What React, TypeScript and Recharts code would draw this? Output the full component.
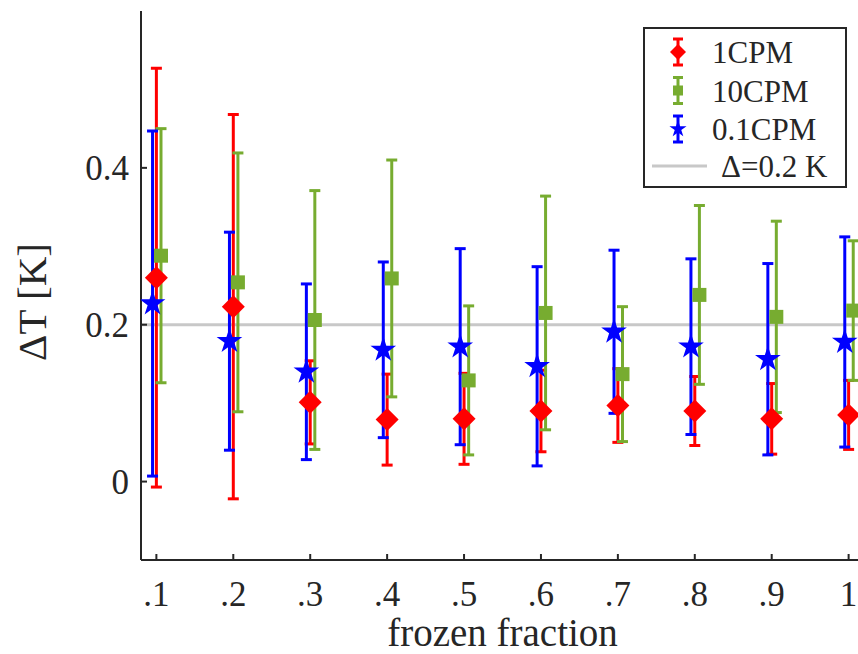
import React from "react";
import {
  ErrorBar,
  Label,
  Legend,
  ReferenceLine,
  Scatter,
  ScatterChart,
  XAxis,
  YAxis
} from "recharts";

// frozen fraction categories and their tick labels
const fractions = [0.1, 0.2, 0.3, 0.4, 0.5, 0.6, 0.7, 0.8, 0.9, 1.0];
const xTickLabels = [".1", ".2", ".3", ".4", ".5", ".6", ".7", ".8", ".9", "1"];
const yTicks = [0, 0.2, 0.4];
const yTickLabels = ["0", "0.2", "0.4"];

// 1CPM
const cpm1Mean = [0.26, 0.223, 0.101, 0.079, 0.08, 0.09, 0.097, 0.09, 0.08, 0.085];
const cpm1Err = [0.267, 0.245, 0.053, 0.058, 0.058, 0.052, 0.047, 0.044, 0.045, 0.044];
// 10CPM
const cpm10Mean = [0.288, 0.254, 0.206, 0.259, 0.129, 0.215, 0.137, 0.238, 0.21, 0.218];
const cpm10Err = [0.162, 0.165, 0.165, 0.151, 0.095, 0.149, 0.086, 0.114, 0.122, 0.089];
// 0.1CPM
const cpm01Mean = [0.227, 0.179, 0.14, 0.168, 0.172, 0.147, 0.191, 0.172, 0.156, 0.178];
const cpm01Err = [0.22, 0.139, 0.112, 0.112, 0.125, 0.127, 0.104, 0.112, 0.122, 0.134];

const threshold = 0.2;

// small horizontal dodge so the bars don't sit on top of each other
const SHIFT_10 = 0.006;
const SHIFT_01 = -0.005;

const RED = "#ff0000";
const GREEN = "#77ac30";
const BLUE = "#0000ff";
const GREY = "#c8c8c8";
const INK = "#262626";
const FONT = "'Liberation Serif', 'Times New Roman', serif";

const rows = (means: number[], errs: number[], shift: number) =>
  fractions.map((f, i) => ({ x: f + shift, y: means[i], err: errs[i] }));

const data1 = rows(cpm1Mean, cpm1Err, 0);
const data10 = rows(cpm10Mean, cpm10Err, SHIFT_10);
const data01 = rows(cpm01Mean, cpm01Err, SHIFT_01);

function starPath(cx: number, cy: number, R: number) {
  const r = R * 0.382;
  let d = "";
  for (let i = 0; i < 10; i++) {
    const rad = i % 2 === 0 ? R : r;
    const a = -Math.PI / 2 + (i * Math.PI) / 5;
    d += (i === 0 ? "M" : "L") + (cx + rad * Math.cos(a)).toFixed(2) + "," + (cy + rad * Math.sin(a)).toFixed(2);
  }
  return d + "Z";
}

const Diamond = ({ cx, cy, s = 11.5 }: any) => (
  <path d={`M${cx},${cy - s}L${cx + s},${cy}L${cx},${cy + s}L${cx - s},${cy}Z`} fill={RED} />
);
const Square = ({ cx, cy, s = 7 }: any) => (
  <rect x={cx - s} y={cy - s} width={2 * s} height={2 * s} fill={GREEN} />
);
const Star = ({ cx, cy, s = 13.5 }: any) => <path d={starPath(cx, cy, s)} fill={BLUE} />;

const BottomTick = ({ x, y, payload }: any) => {
  const i = fractions.findIndex((f) => Math.abs(f - payload.value) < 1e-6);
  return (
    <g>
      <line x1={x} y1={y} x2={x} y2={y - 6} stroke={INK} strokeWidth={2} />
      <text x={x} y={y + 46} textAnchor="middle" fontSize={35} fontFamily={FONT} fill={INK}>
        {xTickLabels[i]}
      </text>
    </g>
  );
};

const TopTick = ({ x, y }: any) => (
  <line x1={x} y1={y} x2={x} y2={y + 6} stroke={INK} strokeWidth={2} />
);

const LeftTick = ({ x, y, payload }: any) => {
  const i = yTicks.findIndex((t) => Math.abs(t - payload.value) < 1e-6);
  return (
    <g>
      <line x1={x} y1={y} x2={x + 6} y2={y} stroke={INK} strokeWidth={2} />
      <text x={x - 12} y={y + 12} textAnchor="end" fontSize={35} fontFamily={FONT} fill={INK}>
        {yTickLabels[i]}
      </text>
    </g>
  );
};

const RightTick = ({ x, y }: any) => (
  <line x1={x} y1={y} x2={x - 6} y2={y} stroke={INK} strokeWidth={2} />
);

const ErrIcon = ({ x, y, color }: any) => (
  <g stroke={color} strokeWidth={3}>
    <line x1={x} y1={y - 13} x2={x} y2={y + 13} />
    <line x1={x - 5} y1={y - 13} x2={x + 5} y2={y - 13} />
    <line x1={x - 5} y1={y + 13} x2={x + 5} y2={y + 13} />
  </g>
);

const LegendBox = () => {
  const items = [
    { name: "1CPM", color: RED, marker: (cx: number, cy: number) => <Diamond cx={cx} cy={cy} s={8} /> },
    { name: "10CPM", color: GREEN, marker: (cx: number, cy: number) => <Square cx={cx} cy={cy} s={5} /> },
    { name: "0.1CPM", color: BLUE, marker: (cx: number, cy: number) => <Star cx={cx} cy={cy} s={9} /> }
  ];
  return (
    <svg width={204} height={161} style={{ display: "block" }}>
      <rect x={1} y={1} width={202} height={159} fill="#fff" stroke={INK} strokeWidth={2} />
      {items.map((it, i) => {
        const cy = 25 + i * 38.5;
        return (
          <g key={it.name}>
            <ErrIcon x={35} y={cy} color={it.color} />
            {it.marker(35, cy)}
            <text x={69} y={cy + 11} fontSize={31} fontFamily={FONT} fill={INK}>
              {it.name}
            </text>
          </g>
        );
      })}
      <line x1={9} y1={139} x2={64} y2={139} stroke={GREY} strokeWidth={3} />
      <text x={78} y={150} fontSize={31} fontFamily={FONT} fill={INK}>
        Δ=0.2 K
      </text>
    </svg>
  );
};

export default function App() {
  return (
    <div style={{ position: "absolute", left: 0, top: 0, width: 858, height: 654, overflow: "hidden", background: "#fff" }}>
      <ScatterChart width={880} height={654} margin={{ top: 11, right: 16, bottom: 0, left: 0 }}>
        <XAxis
          type="number"
          dataKey="x"
          domain={[0.08, 1.02]}
          allowDataOverflow
          ticks={fractions}
          interval={0}
          height={94}
          tickSize={0}
          tickMargin={0}
          tickLine={false}
          tick={<BottomTick />}
          axisLine={{ stroke: INK, strokeWidth: 2 }}
        >
          <Label
            content={({ viewBox }: any) => (
              <text
                x={viewBox.x + viewBox.width / 2}
                y={viewBox.y + 86}
                textAnchor="middle"
                fontSize={39}
                fontFamily={FONT}
                fill={INK}
              >
                frozen fraction
              </text>
            )}
          />
        </XAxis>
        <XAxis
          xAxisId="top"
          orientation="top"
          type="number"
          dataKey="x"
          domain={[0.08, 1.02]}
          allowDataOverflow
          ticks={fractions}
          interval={0}
          height={0}
          tickSize={0}
          tickMargin={0}
          tickLine={false}
          tick={<TopTick />}
          axisLine={{ stroke: INK, strokeWidth: 2 }}
        />
        <YAxis
          type="number"
          dataKey="y"
          domain={[-0.1, 0.6]}
          allowDataOverflow
          ticks={yTicks}
          interval={0}
          width={141}
          tickSize={0}
          tickMargin={0}
          tickLine={false}
          tick={<LeftTick />}
          axisLine={{ stroke: INK, strokeWidth: 2 }}
        >
          <Label
            content={({ viewBox }: any) => {
              const cx = viewBox.x + 32;
              const cy = 302;
              return (
                <text
                  x={cx}
                  y={cy}
                  transform={`rotate(-90 ${cx} ${cy})`}
                  textAnchor="middle"
                  dominantBaseline="central"
                  fontSize={41}
                  fontFamily={FONT}
                  fill={INK}
                >
                  ΔT [K]
                </text>
              );
            }}
          />
        </YAxis>
        <YAxis
          yAxisId="right"
          orientation="right"
          type="number"
          dataKey="y"
          domain={[-0.1, 0.6]}
          allowDataOverflow
          ticks={yTicks}
          interval={0}
          width={0}
          tickSize={0}
          tickMargin={0}
          tickLine={false}
          tick={<RightTick />}
          axisLine={{ stroke: INK, strokeWidth: 2 }}
        />
        <ReferenceLine y={threshold} stroke={GREY} strokeWidth={3} />
        <Scatter data={data1} fill={RED} shape={<Diamond />} isAnimationActive={false}>
          <ErrorBar dataKey="err" direction="y" width={5.5} stroke={RED} strokeWidth={3} isAnimationActive={false} />
        </Scatter>
        <Scatter data={data10} fill={GREEN} shape={<Square />} isAnimationActive={false}>
          <ErrorBar dataKey="err" direction="y" width={5.5} stroke={GREEN} strokeWidth={3} isAnimationActive={false} />
        </Scatter>
        <Scatter data={data01} fill={BLUE} shape={<Star />} isAnimationActive={false}>
          <ErrorBar dataKey="err" direction="y" width={5.5} stroke={BLUE} strokeWidth={3} isAnimationActive={false} />
        </Scatter>
        <Legend
          layout="horizontal"
          verticalAlign="middle"
          align="center"
          content={<LegendBox />}
          wrapperStyle={{ position: "absolute", left: 643, top: 27, width: 204, height: 161 }}
        />
      </ScatterChart>
    </div>
  );
}
